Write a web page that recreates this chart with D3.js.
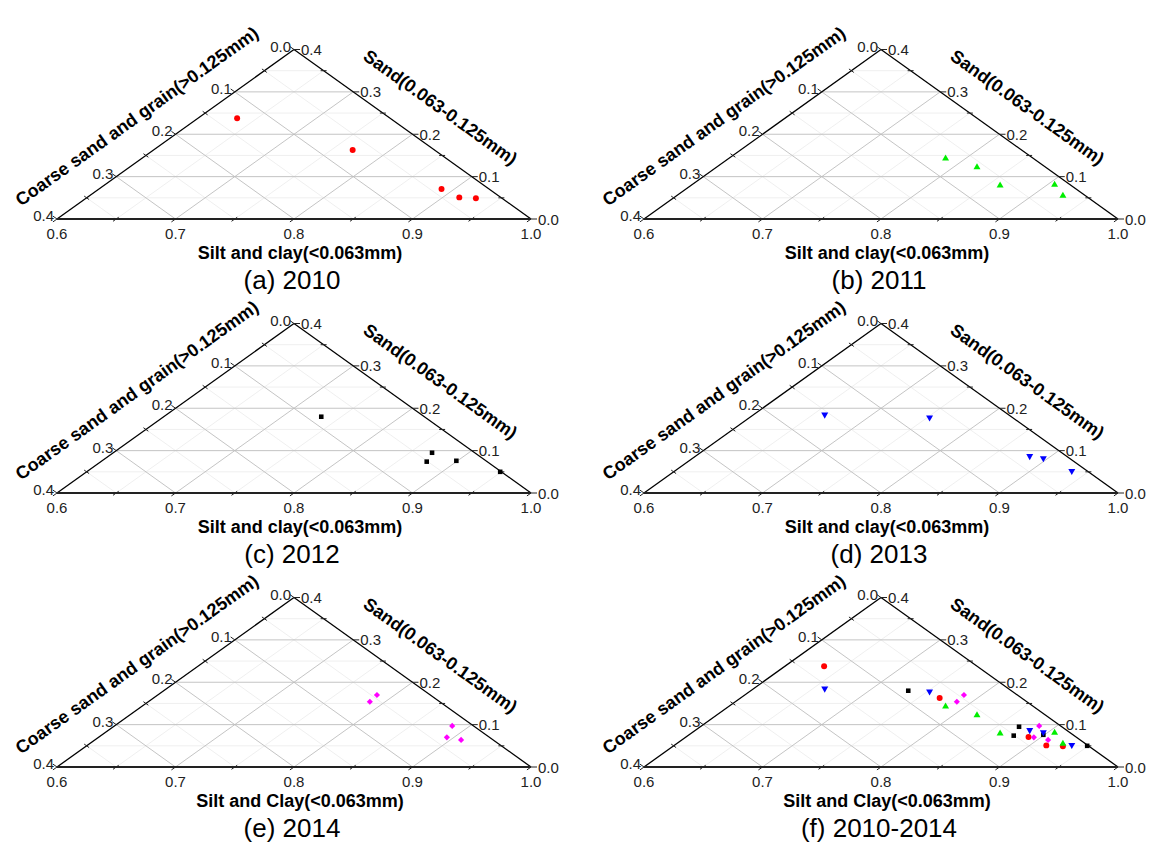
<!DOCTYPE html>
<html>
<head>
<meta charset="utf-8">
<script src="https://cdn.jsdelivr.net/npm/d3@7"></script>
<style>
  body { margin: 0; background: #fff; }
  svg { display: block; font-family: "Liberation Sans", Arial, sans-serif; }
</style>
</head>
<body>
<svg id="chart" width="1149" height="844"></svg>
<script>
// fractions: silt+clay, sand, coarse sand & grain
var silt2010 = [0.633, 0.768, 0.889, 0.914, 0.929];
var sand2010 = [0.238, 0.163, 0.071, 0.051, 0.049];
var coarse2010 = [0.129, 0.069, 0.040, 0.035, 0.022];

var silt2011 = [0.783, 0.820, 0.861, 0.906, 0.926];
var sand2011 = [0.143, 0.122, 0.079, 0.081, 0.055];
var coarse2011 = [0.074, 0.058, 0.060, 0.013, 0.019];

var silt2012 = [0.733, 0.869, 0.875, 0.899, 0.949];
var sand2012 = [0.180, 0.095, 0.074, 0.076, 0.050];
var coarse2012 = [0.087, 0.036, 0.051, 0.025, 0.001];

var silt2013 = [0.660, 0.752, 0.882, 0.896, 0.935];
var sand2013 = [0.185, 0.178, 0.087, 0.082, 0.052];
var coarse2013 = [0.155, 0.070, 0.031, 0.022, 0.013];

var silt2014 = [0.785, 0.787, 0.885, 0.894, 0.909];
var sand2014 = [0.170, 0.154, 0.097, 0.070, 0.064];
var coarse2014 = [0.045, 0.059, 0.018, 0.036, 0.027];

var siltTicks = [0.6, 0.7, 0.8, 0.9, 1.0];
var sideTicks = [0.0, 0.1, 0.2, 0.3, 0.4];
var minorTicks = [0.05, 0.15, 0.25, 0.35];
var majorGrid = [0.1, 0.2, 0.3];

var panelTitles = ["(a) 2010", "(b) 2011", "(c) 2012", "(d) 2013", "(e) 2014", "(f) 2010-2014"];
var siltTitles = ["Silt and clay(<0.063mm)", "Silt and clay(<0.063mm)", "Silt and clay(<0.063mm)",
                  "Silt and clay(<0.063mm)", "Silt and Clay(<0.063mm)", "Silt and Clay(<0.063mm)"];
var coarseTitle = "Coarse sand and grain(>0.125mm)";
var sandTitle = "Sand(0.063-0.125mm)";

var series = [
  {silt: silt2010, sand: sand2010, coarse: coarse2010},
  {silt: silt2011, sand: sand2011, coarse: coarse2011},
  {silt: silt2012, sand: sand2012, coarse: coarse2012},
  {silt: silt2013, sand: sand2013, coarse: coarse2013},
  {silt: silt2014, sand: sand2014, coarse: coarse2014}
];
var panelSeries = [[0], [1], [2], [3], [4], [0, 2, 1, 3, 4]];

// marker styles per year
var markColor = ["#ff0000", "#00ee00", "#000000", "#0000ff", "#ff00ff"];
var markType = [d3.symbolCircle, d3.symbolTriangle, d3.symbolSquare, d3.symbolTriangle, d3.symbolDiamond2];
var markSize = [28, 21, 21, 21, 24];
var markRot = [0, 0, 0, 180, 0];

var W = 474, H = 169.5;
var colX = [57, 644], rowY = [219, 493, 767];
var fmt = d3.format(".1f");

var svg = d3.select("#chart");
svg.append("rect").attr("width", 1149).attr("height", 844).attr("fill", "#fff");

var theta = Math.atan2(H, W / 2);
var deg = theta * 180 / Math.PI;

panelTitles.forEach(function(title, i) {
  var x0 = colX[i % 2], y0 = rowY[Math.floor(i / 2)];
  var x = d3.scaleLinear().domain([0.6, 1.0]).range([x0, x0 + W]);
  var y = d3.scaleLinear().domain([0, 0.4]).range([y0, y0 - H]);
  function pt(s, d) { return [x(s + d / 2), y(d)]; }

  var g = svg.append("g");
  var line = d3.line();

  function gridLines(vals, color, width) {
    vals.forEach(function(v) {
      // sand constant (horizontal)
      g.append("path").attr("d", line([pt(0.6, v), pt(1 - v, v)]))
        .attr("stroke", color).attr("stroke-width", width).attr("fill", "none");
      // silt constant (parallel to left side)
      g.append("path").attr("d", line([pt(0.6 + v, 0), pt(0.6 + v, 0.4 - v)]))
        .attr("stroke", color).attr("stroke-width", width).attr("fill", "none");
      // coarse constant (parallel to right side)
      g.append("path").attr("d", line([pt(1 - v, 0), pt(0.6, 0.4 - v)]))
        .attr("stroke", color).attr("stroke-width", width).attr("fill", "none");
    });
  }
  gridLines(minorTicks, "#ebebeb", 0.8);
  gridLines(majorGrid, "#bdbdbd", 0.9);

  // frame
  g.append("path").attr("d", line([pt(0.6, 0.4), pt(1.0, 0)]))
    .attr("stroke", "#000").attr("stroke-width", 1.3).attr("fill", "none");
  g.append("path").attr("d", line([pt(0.6, 0), pt(0.6, 0.4)]))
    .attr("stroke", "#000").attr("stroke-width", 1.3).attr("fill", "none");
  g.append("path").attr("d", line([pt(0.6, 0), pt(1.0, 0)]))
    .attr("stroke", "#222").attr("stroke-width", 2).attr("fill", "none");

  // tick directions
  var L = Math.hypot(W / 2, H);
  var dirBottom = [-(W / 2) / L, H / L];   // down-left
  var dirLeft = [-(W / 2) / L, -H / L];    // up-left
  function tick(p, dir, a, b) {
    g.append("path").attr("d", line([[p[0] + dir[0] * a, p[1] + dir[1] * a], [p[0] + dir[0] * b, p[1] + dir[1] * b]]))
      .attr("stroke", "#222").attr("stroke-width", 1).attr("fill", "none");
  }
  siltTicks.forEach(function(v) { tick(pt(v, 0), dirBottom, 0, 5); });
  sideTicks.forEach(function(v) {
    tick(pt(0.6, 0.4 - v), dirLeft, 0, 5);
    tick(pt(1 - v, v), [1, 0], 0, 6);
  });
  minorTicks.forEach(function(v) {
    tick(pt(0.6 + v, 0), dirBottom, -3, 4);
    tick(pt(0.6, 0.4 - v), dirLeft, -3, 3);
    tick(pt(1 - v, v), [1, 0], -3, 3);
  });

  // tick labels
  g.selectAll(null).data(siltTicks).enter().append("text")
    .attr("x", function(d) { return pt(d, 0)[0]; })
    .attr("y", y0 + 20)
    .attr("text-anchor", "middle").attr("font-size", 15).attr("fill", "#222")
    .text(fmt);
  g.selectAll(null).data(sideTicks).enter().append("text")
    .attr("x", function(d) { return pt(0.6, 0.4 - d)[0] - 3; })
    .attr("y", function(d) { return pt(0.6, 0.4 - d)[1] + 2; })
    .attr("text-anchor", "end").attr("font-size", 15).attr("fill", "#222")
    .text(fmt);
  g.selectAll(null).data(sideTicks).enter().append("text")
    .attr("x", function(d) { return pt(1 - d, d)[0] + 7; })
    .attr("y", function(d) { return pt(1 - d, d)[1] + 5.5; })
    .attr("text-anchor", "start").attr("font-size", 15).attr("fill", "#222")
    .text(fmt);

  // axis titles
  var mL = pt(0.6, 0.2), mR = pt(0.8, 0.2);
  g.append("text")
    .attr("transform", "translate(" + mL[0] + "," + mL[1] + ") rotate(" + (-deg) + ")")
    .attr("x", -21).attr("y", -31)
    .attr("text-anchor", "middle").attr("font-size", 18).attr("font-weight", "bold")
    .text(coarseTitle);
  g.append("text")
    .attr("transform", "translate(" + mR[0] + "," + mR[1] + ") rotate(" + deg + ")")
    .attr("x", 7).attr("y", -32)
    .attr("text-anchor", "middle").attr("font-size", 18).attr("font-weight", "bold")
    .text(sandTitle);
  g.append("text")
    .attr("x", x(0.8) + 6).attr("y", y0 + 40)
    .attr("text-anchor", "middle").attr("font-size", 18).attr("font-weight", "bold")
    .text(siltTitles[i]);
  g.append("text")
    .attr("x", x(0.8) - 2).attr("y", y0 + 70)
    .attr("text-anchor", "middle").attr("font-size", 26)
    .text(title);

  // points
  panelSeries[i].forEach(function(k) {
    var s = series[k];
    var sym = d3.symbol().type(markType[k]).size(markSize[k]);
    g.selectAll(null).data(s.silt.map(function(v, j) { return [v, s.sand[j], s.coarse[j]]; }))
      .enter().append("path")
      .attr("d", sym)
      .attr("transform", function(d) {
        var p = pt(d[0], d[1]);
        return "translate(" + p[0] + "," + p[1] + ") rotate(" + markRot[k] + ")";
      })
      .attr("fill", markColor[k]);
  });
});
</script>
</body>
</html>
